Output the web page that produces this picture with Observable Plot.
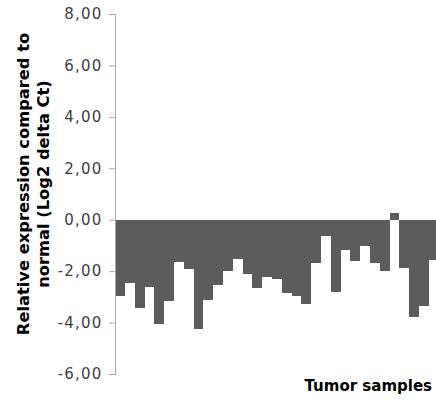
<!DOCTYPE html>
<html>
<head>
<meta charset="utf-8">
<script src="https://cdn.jsdelivr.net/npm/d3@7"></script>
<script src="https://cdn.jsdelivr.net/npm/@observablehq/plot@0.6"></script>
<style>
  html, body { margin: 0; padding: 0; background: #fff; overflow: hidden; }
  #chart svg { display: block; overflow: hidden; }
  #chart g[aria-label="y-axis tick label"] text { letter-spacing: 1.2px; }
</style>
</head>
<body>
<div id="chart"></div>
<script>
const samples = Array.from({length: 33}, (_, i) => i + 1);
const values = [
  -2.98, -2.46, -3.45, -2.62, -4.05, -3.15, -1.63, -1.92, -4.24, -3.11,
  -2.54, -1.98, -1.52, -2.10, -2.66, -2.23, -2.31, -2.85, -2.97, -3.28,
  -1.70, -0.63, -2.80, -1.16, -1.62, -1.02, -1.70, -2.01, 0.28, -1.86,
  -3.80, -3.36, -1.57
];
const yTicks = [-6, -4, -2, 0, 2, 4, 6, 8];
const yTitle = ["Relative expression compared to", "normal (Log2 delta Ct)"];
const xTitle = "Tumor samples";

const data = samples.map((s, i) => ({sample: s, value: values[i]}));

const chart = Plot.plot({
  width: 436,
  height: 400,
  marginLeft: 115,
  marginRight: 0,
  marginTop: 14,
  marginBottom: 26,
  style: {fontFamily: "DejaVu Sans, sans-serif", fontSize: "15px", color: "#404040", background: "#fff"},
  x: {type: "band", domain: samples, range: [115.3, 438.6], padding: 0, round: false, axis: null},
  y: {domain: [-6, 8], axis: null},
  marks: [
    Plot.barY(data, {x: "sample", y: "value", fill: "#5c5c5c", shapeRendering: "crispEdges"}),
    Plot.axisY({
      ticks: yTicks,
      tickSize: 6,
      tickPadding: 7,
      stroke: "#a6a6a6",
      fill: "#404040",
      tickFormat: d => d.toFixed(2).replace(".", ","),
      label: null,
      fontSize: 15
    }),
    Plot.frame({anchor: "left", stroke: "#a6a6a6"})
  ]
});

document.getElementById("chart").appendChild(chart);

const svg = d3.select(chart);
const t = svg.append("text")
  .attr("transform", "translate(0,184) rotate(-90)")
  .attr("text-anchor", "middle")
  .attr("font-family", "DejaVu Sans, sans-serif")
  .attr("font-weight", "bold")
  .attr("font-size", 16.3)
  .attr("fill", "#000");
t.append("tspan").attr("x", 0).attr("y", 29).text(yTitle[0]);
t.append("tspan").attr("x", 0).attr("y", 49).text(yTitle[1]);

svg.append("text")
  .attr("x", 432)
  .attr("y", 391)
  .attr("text-anchor", "end")
  .attr("font-family", "DejaVu Sans, sans-serif")
  .attr("font-weight", "bold")
  .attr("font-size", 15)
  .attr("fill", "#000")
  .text(xTitle);
</script>
</body>
</html>
